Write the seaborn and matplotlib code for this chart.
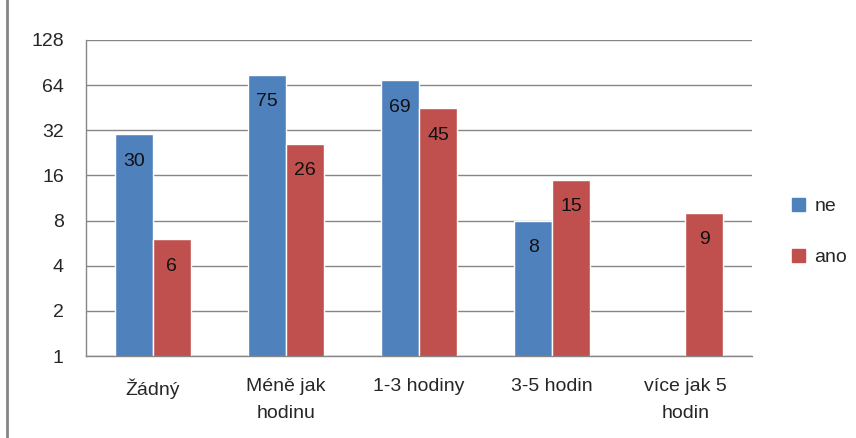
import numpy as np
import pandas as pd
import matplotlib
matplotlib.use("Agg")
import matplotlib.pyplot as plt
from matplotlib.patches import Rectangle
import seaborn as sns

categories = ["Žádný", "Méně jak\nhodinu", "1-3 hodiny", "3-5 hodin", "více jak 5\nhodin"]
ne_values = [30, 75, 69, 8, np.nan]
ano_values = [6, 26, 45, 15, 9]
series = ["ne", "ano"]
y_ticks = [1, 2, 4, 8, 16, 32, 64, 128]

data = pd.DataFrame({
    "kategorie": categories * 2,
    "skupina": ["ne"] * 5 + ["ano"] * 5,
    "pocet": ne_values + ano_values,
})

sns.set_style("white")
plt.rcParams["font.family"] = ["Liberation Sans", "DejaVu Sans"]

fig = plt.figure(figsize=(8.56, 4.38), dpi=100)
ax = fig.add_axes([0.1005, 0.187, 0.778, 0.722])

colors = {"ne": "#4F81BD", "ano": "#C0504D"}
sns.barplot(data=data, x="kategorie", y="pocet", hue="skupina", hue_order=series,
            palette=colors, width=0.57, saturation=1, ax=ax, legend=False)

ax.set_yscale("log", base=2)
ax.set_ylim(1, 128)
ax.set_yticks(y_ticks)
ax.set_yticklabels([str(t) for t in y_ticks])
ax.minorticks_off()
ax.set_xlim(-0.5, 4.5)

ax.grid(axis="y", color="#868686", linewidth=1)
ax.set_axisbelow(True)
for s in ["top", "right"]:
    ax.spines[s].set_visible(False)
for s in ["left", "bottom"]:
    ax.spines[s].set_color("#868686")
    ax.spines[s].set_linewidth(1)

ax.set_xlabel("")
ax.set_ylabel("")
ax.tick_params(axis="y", length=6, color="#868686", pad=10, labelsize=14)
ax.tick_params(axis="x", which="major", length=0, pad=16, labelsize=14)
ax.set_xticks([0.5, 1.5, 2.5, 3.5], minor=True)
ax.tick_params(axis="x", which="minor", length=7, color="#868686")
for lbl in ax.get_xticklabels():
    lbl.set_linespacing(1.75)

# data labels just below the top of each bar
for patch in ax.patches:
    h = patch.get_height()
    if np.isnan(h) or h <= 0:
        continue
    ax.annotate(f"{h:.0f}", (patch.get_x() + patch.get_width() / 2, h),
                xytext=(0, -19.5), textcoords="offset points",
                ha="center", va="center", fontsize=14, color="#111111")

handles = [Rectangle((0, 0), 1, 1, color=colors[s]) for s in series]
fig.legend(handles, series, loc="center left", bbox_to_anchor=(0.905, 0.47),
           frameon=False, handlelength=0.65, handleheight=0.65, handletextpad=0.5,
           labelspacing=1.75, fontsize=14)

fig.add_artist(Rectangle((7 / 856, -0.2), 1.2, 1.2 + 1 - 14 / 438,
                         transform=fig.transFigure, fill=False,
                         edgecolor="#868686", linewidth=2))

fig.savefig("out.png", dpi=100)
